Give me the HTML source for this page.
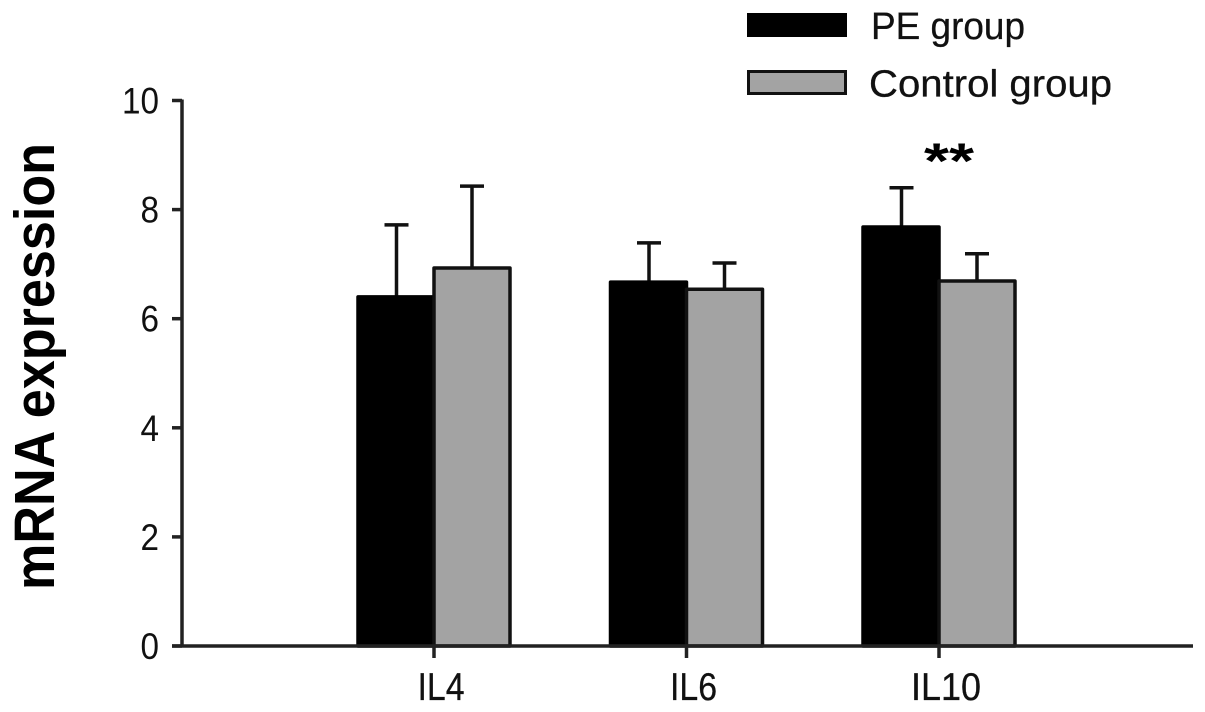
<!DOCTYPE html>
<html lang="en">
<head>
<meta charset="utf-8">
<title>mRNA expression chart</title>
<style>
html,body{margin:0;padding:0;background:#fff;width:1205px;height:712px;overflow:hidden}
svg{display:block}
text{font-family:"Liberation Sans",sans-serif;fill:#111}
</style>
</head>
<body>
<svg id="chart" xmlns="http://www.w3.org/2000/svg" width="1205" height="712" viewBox="0 0 1205 712">
  <rect x="0" y="0" width="1205" height="712" fill="#fff"/>
  <text transform="translate(54,590) rotate(-90)" font-size="57" font-weight="700" textLength="447" lengthAdjust="spacingAndGlyphs" style="fill:#000">mRNA expression</text>
  <rect x="747" y="13" width="100" height="24" fill="#000"/>
  <text x="871" y="39" font-size="38" textLength="154" lengthAdjust="spacingAndGlyphs" stroke="#111" stroke-width="0.3">PE group</text>
  <rect x="748.5" y="71.5" width="97" height="22" fill="#a3a3a3" stroke="#111" stroke-width="3"/>
  <text x="869" y="96.5" font-size="38" textLength="243" lengthAdjust="spacingAndGlyphs" stroke="#111" stroke-width="0.3">Control group</text>
  <text x="924" y="178" font-size="50" font-weight="700" textLength="50" lengthAdjust="spacingAndGlyphs" style="fill:#000">**</text>
  <g id="plot"></g>
</svg>
<script>
const categories = ['IL4', 'IL6', 'IL10'];
const peValues = [6.4, 6.67, 7.68];
const controlValues = [6.93, 6.54, 6.69];
const peErrorTops = [7.72, 7.39, 8.4];
const controlErrorTops = [8.43, 7.02, 7.19];
const yTickLabels = [0, 2, 4, 6, 8, 10];

const NS = 'http://www.w3.org/2000/svg';
const plot = document.getElementById('plot');
const yScale = v => 646 - v * 54.55;
const xCenter = i => 434 + i * 252.5;
const BAR_W = 76;
const CAP_HALF = 12;
const LINE_W = 3.5;

function make(tag, props, text) {
  const el = document.createElementNS(NS, tag);
  for (const k in props) el.setAttribute(k, props[k]);
  if (text !== undefined) el.textContent = text;
  plot.appendChild(el);
  return el;
}

categories.forEach((cat, i) => {
  const cx = xCenter(i);
  const key = cat.toLowerCase();

  // PE error bar
  const peX = cx - BAR_W / 2 + 0.5;
  const peStem = make('line', {x1: peX, x2: peX, y1: yScale(peValues[i]), y2: yScale(peErrorTops[i]), stroke: '#111', 'stroke-width': LINE_W});
  
  
  const peCap = make('line', {x1: peX - CAP_HALF, x2: peX + CAP_HALF, y1: yScale(peErrorTops[i]), y2: yScale(peErrorTops[i]), stroke: '#111', 'stroke-width': LINE_W});
  
  

  // Control error bar
  const ctlX = cx + BAR_W / 2;
  const ctlStem = make('line', {x1: ctlX, x2: ctlX, y1: yScale(controlValues[i]), y2: yScale(controlErrorTops[i]), stroke: '#111', 'stroke-width': LINE_W});
  
  
  const ctlCap = make('line', {x1: ctlX - CAP_HALF, x2: ctlX + CAP_HALF, y1: yScale(controlErrorTops[i]), y2: yScale(controlErrorTops[i]), stroke: '#111', 'stroke-width': LINE_W});
  
  

  // Bars
  const peBar = make('rect', {x: cx - BAR_W, y: yScale(peValues[i]), width: BAR_W, height: yScale(0) - yScale(peValues[i]), fill: '#000', stroke: '#000', 'stroke-width': LINE_W, 'stroke-linejoin': 'round'});
  
  
  const ctlBar = make('rect', {x: cx, y: yScale(controlValues[i]), width: BAR_W, height: yScale(0) - yScale(controlValues[i]), fill: '#a3a3a3', stroke: '#111', 'stroke-width': LINE_W, 'stroke-linejoin': 'round'});
  
  

  // X tick and label
  const xTick = make('line', {x1: cx, x2: cx, y1: 646, y2: 658, stroke: '#222', 'stroke-width': LINE_W});
  
  
  const xLabel = make('text', {x: cx + 7, y: 700, 'font-size': 39, 'text-anchor': 'middle', textLength: 1 + 23 * (cat.length - 1), lengthAdjust: 'spacingAndGlyphs', stroke: '#111', 'stroke-width': 0.3}, cat);
  
  
});

const yAxis = make('line', {x1: 182, x2: 182, y1: 99.5, y2: 647.5, stroke: '#222', 'stroke-width': LINE_W});


const xAxis = make('line', {x1: 172, x2: 1193, y1: 646, y2: 646, stroke: '#222', 'stroke-width': LINE_W});



yTickLabels.forEach(v => {
  const tick = make('line', {x1: 172, x2: 182, y1: yScale(v), y2: yScale(v), stroke: '#222', 'stroke-width': LINE_W});
  
  
  const label = make('text', {x: 159, y: yScale(v) + 13, 'font-size': 37, 'text-anchor': 'end', textLength: 18.5 * String(v).length, lengthAdjust: 'spacingAndGlyphs'}, String(v));
  
  
});
</script>
</body>
</html>
